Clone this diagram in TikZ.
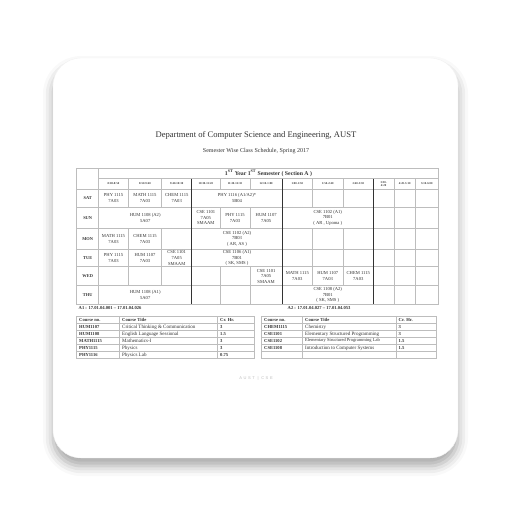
\documentclass[tikz,border=0pt]{standalone}
\usepackage{fontspec}
\setmainfont{Liberation Serif}
\newfontfamily\footfont[LetterSpace=40]{Liberation Sans}
\usetikzlibrary{shadows.blur}
\definecolor{ink}{HTML}{333333}
\definecolor{rulegray}{HTML}{BDBDBD}
\definecolor{footgray}{HTML}{BEBEBE}

\begin{document}
\begin{tikzpicture}[x=1pt, y=-1pt,
    cell/.style={font=\fontsize{4.6}{5.6}\selectfont, align=center, text=ink, inner sep=0pt},
    day/.style={font=\fontsize{4.4}{5}\selectfont\bfseries, text=ink, inner sep=0pt},
    slot/.style={font=\fontsize{2.9}{3.2}\selectfont\bfseries, align=center, text=ink, inner sep=0pt},
    thin rule/.style={draw=rulegray, line width=0.5pt},
    bold rule/.style={draw=ink, line width=1pt},
    entry/.style={font=\fontsize{5}{5.5}\selectfont, text=ink, anchor=west, inner sep=0pt},
    code/.style={entry, font=\fontsize{4.6}{5}\selectfont\bfseries}
  ]
  \useasboundingbox (0,0) rectangle (512,512);

  % card
  \path[fill=white, draw=black!5, rounded corners=28pt,
    blur shadow={shadow xshift=0pt, shadow yshift=-8pt, shadow blur radius=10pt, shadow opacity=35}]
    (53,58) rectangle (458,458);

  \node[font=\fontsize{8.6}{10}\selectfont, text=ink] (title) at (256,135) {Department of Computer Science and Engineering, AUST};
  \node[font=\fontsize{6}{7}\selectfont, text=ink] (subtitle) at (256,151.5) {Semester Wise Class Schedule, Spring 2017};

  % routine grid
  \draw[thin rule] (76.7,168.3) rectangle (438.3,304.3);
  \draw[thin rule] (98.7,168.3) -- (98.7,304.3);
  \draw[thin rule] (98.7,178.7) -- (438.3,178.7);
  \foreach \y in {189,207.3,228.3,249.3,266.7,285.7}
    \draw[thin rule] (76.7,\y) -- (438.3,\y);
  \foreach \x in {128.3,161.7,312.3,343.3} {
    \draw[thin rule] (\x,178.7) -- (\x,207.3);
    \draw[thin rule] (\x,228.3) -- (\x,285.7);
  }
  \foreach \x in {220,250} {
    \draw[thin rule] (\x,178.7) -- (\x,189);
    \draw[thin rule] (\x,207.3) -- (\x,228.3);
    \draw[thin rule] (\x,266.7) -- (\x,304.3);
  }
  \foreach \x in {394,415.3}
    \draw[thin rule] (\x,178.7) -- (\x,304.3);
  \foreach \x in {191.7,282.3,373.3}
    \draw[bold rule] (\x,178.7) -- (\x,304.3);

  \node[font=\fontsize{5.8}{6}\selectfont\bfseries, text=ink] (head) at (268.5,173.5) {1\textsuperscript{ST} Year 1\textsuperscript{ST} Semester ( Section A )};

  % time slots
  \node[slot] (s1) at (113.5,183.85) {8:00-8:50};
  \node[slot] (s2) at (145,183.85) {8:50-9:40};
  \node[slot] (s3) at (176.7,183.85) {9:40-10:30};
  \node[slot] (s4) at (205.85,183.85) {10:30-11:20};
  \node[slot] (s5) at (235,183.85) {11:20-12:10};
  \node[slot] (s6) at (266.15,183.85) {12:10-1:00};
  \node[slot] (s7) at (297.3,183.85) {1:00-1:50};
  \node[slot] (s8) at (327.8,183.85) {1:50-2:40};
  \node[slot] (s9) at (358.3,183.85) {2:40-3:30};
  \node[slot] (s10) at (383.65,183.85) {3:30-\\4:20};
  \node[slot] (s11) at (404.65,183.85) {4:20-5:10};
  \node[slot] (s12) at (426.8,183.85) {5:10-6:00};

  % days
  \node[day] (sat) at (87.7,198.15) {SAT};
  \node[day] (sun) at (87.7,217.8) {SUN};
  \node[day] (mon) at (87.7,238.8) {MON};
  \node[day] (tue) at (87.7,258) {TUE};
  \node[day] (wed) at (87.7,276.2) {WED};
  \node[day] (thu) at (87.7,295) {THU};

  % classes
  \node[cell] (sat1) at (113.5,198.15) {PHY 1115\\7A03};
  \node[cell] (sat2) at (145,198.15) {MATH 1115\\7A03};
  \node[cell] (sat3) at (176.7,198.15) {CHEM 1115\\7A03};
  \node[cell] (sat4) at (237,198.15) {PHY 1116 (A1/A2)*\\5B04};

  \node[cell] (sun1) at (145.2,217.8) {HUM 1108 (A2)\\5A07};
  \node[cell] (sun4) at (205.85,217.8) {CSE 1101\\7A05\\SMAAM};
  \node[cell] (sun5) at (235,217.8) {PHY 1115\\7A03};
  \node[cell] (sun6) at (266.15,217.8) {HUM 1107\\7A05};
  \node[cell] (sun7) at (327.8,217.8) {CSE 1102 (A1)\\7B01\\( AR , Upoma )};

  \node[cell] (mon1) at (113.5,238.8) {MATH 1115\\7A03};
  \node[cell] (mon2) at (145,238.8) {CHEM 1115\\7A03};
  \node[cell] (mon4) at (237,238.8) {CSE 1102 (A2)\\7B03\\( AR, AS )};

  \node[cell] (tue1) at (113.5,258) {PHY 1115\\7A03};
  \node[cell] (tue2) at (145,258) {HUM 1107\\7A03};
  \node[cell] (tue3) at (176.7,258) {CSE 1101\\7A05\\SMAAM};
  \node[cell] (tue4) at (237,258) {CSE 1106 (A1)\\7B01\\( SK, SMS )};

  \node[cell] (wed6) at (266.15,276.2) {CSE 1101\\7A05\\SMAAM};
  \node[cell] (wed7) at (297.3,276.2) {MATH 1115\\7A03};
  \node[cell] (wed8) at (327.8,276.2) {HUM 1107\\7A03};
  \node[cell] (wed9) at (358.3,276.2) {CHEM 1115\\7A03};

  \node[cell] (thu1) at (145.2,295) {HUM 1108 (A1)\\5A07};
  \node[cell] (thu7) at (327.8,295) {CSE 1108 (A2)\\7B01\\( SK, SMS )};

  % groups
  \node[code] (ga) at (78.5,308.3) {A1 : 17.01.04.001 -- 17.01.04.026};
  \node[code] (gb) at (287.5,308.3) {A2 : 17.01.04.027 -- 17.01.04.053};

  % course tables
  \draw[thin rule] (76.7,316.7) rectangle (254.3,358.3);
  \draw[thin rule] (261.7,316.7) rectangle (436,358.3);
  \foreach \y in {323.3,330.3,337.3,344.3,351.3} {
    \draw[thin rule] (76.7,\y) -- (254.3,\y);
    \draw[thin rule] (261.7,\y) -- (436,\y);
  }
  \foreach \x in {119.3,217.3,302.3,396}
    \draw[thin rule] (\x,316.7) -- (\x,358.3);

  \node[code] (ln0) at (79,320) {Course no.};
  \node[code] (lt0) at (122,320) {Course Title};
  \node[code] (lc0) at (220,320) {Cr. Hr.};
  \node[code] (ln1) at (79,326.8) {HUM1107};
  \node[entry] (lt1) at (122,326.8) {Critical Thinking \& Communication};
  \node[code] (lc1) at (220,326.8) {3};
  \node[code] (ln2) at (79,333.8) {HUM1108};
  \node[entry] (lt2) at (122,333.8) {English Language Sessional};
  \node[code] (lc2) at (220,333.8) {1.5};
  \node[code] (ln3) at (79,340.8) {MATH1115};
  \node[entry] (lt3) at (122,340.8) {Mathematics-I};
  \node[code] (lc3) at (220,340.8) {3};
  \node[code] (ln4) at (79,347.8) {PHY1115};
  \node[entry] (lt4) at (122,347.8) {Physics};
  \node[code] (lc4) at (220,347.8) {3};
  \node[code] (ln5) at (79,354.8) {PHY1116};
  \node[entry] (lt5) at (122,354.8) {Physics Lab};
  \node[code] (lc5) at (220,354.8) {0.75};

  \node[code] (rn0) at (264,320) {Course no.};
  \node[code] (rt0) at (305,320) {Course Title};
  \node[code] (rc0) at (398.5,320) {Cr. Hr.};
  \node[code] (rn1) at (264,326.8) {CHEM1115};
  \node[entry] (rt1) at (305,326.8) {Chemistry};
  \node[code] (rc1) at (398.5,326.8) {3};
  \node[code] (rn2) at (264,333.8) {CSE1101};
  \node[entry] (rt2) at (305,333.8) {Elementary Structured Programming};
  \node[code] (rc2) at (398.5,333.8) {3};
  \node[code] (rn3) at (264,340.8) {CSE1102};
  \node[entry, font=\fontsize{4.5}{5}\selectfont] (rt3) at (305,340.8) {Elementary Structured Programming Lab};
  \node[code] (rc3) at (398.5,340.8) {1.5};
  \node[code] (rn4) at (264,347.8) {CSE1108};
  \node[entry] (rt4) at (305,347.8) {Introduction to Computer Systems};
  \node[code] (rc4) at (398.5,347.8) {1.5};

  \node[font=\footfont\fontsize{4}{4.5}\selectfont, text=footgray] (foot) at (256,378) {AUST | CSE};
\end{tikzpicture}
\end{document}
